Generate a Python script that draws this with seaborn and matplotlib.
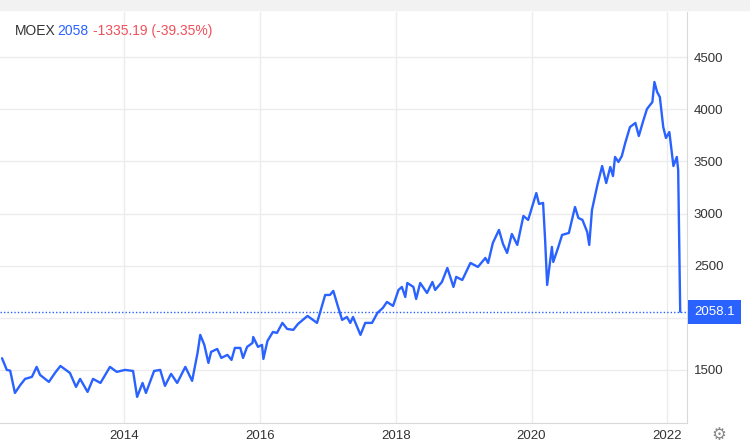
import numpy as np
import pandas as pd
import seaborn as sns
from matplotlib import pyplot as plt

# MOEX index (decimal year, index level)
years = [2012.20, 2012.27, 2012.32, 2012.39, 2012.47, 2012.54, 2012.64, 2012.71, 2012.76, 2012.89,
         2012.98, 2013.06, 2013.20, 2013.29, 2013.35, 2013.46, 2013.54, 2013.65, 2013.79, 2013.89,
         2014.01, 2014.13, 2014.19, 2014.27, 2014.32, 2014.44, 2014.53, 2014.60, 2014.69, 2014.78,
         2014.90, 2015.00, 2015.08, 2015.12, 2015.18, 2015.24, 2015.28, 2015.37, 2015.43, 2015.52,
         2015.58, 2015.63, 2015.71, 2015.75, 2015.81, 2015.89, 2015.90, 2015.97, 2016.03, 2016.05,
         2016.11, 2016.19, 2016.25, 2016.33, 2016.40, 2016.49, 2016.56, 2016.70, 2016.84, 2016.96,
         2017.03, 2017.08, 2017.15, 2017.21, 2017.28, 2017.33, 2017.37, 2017.48, 2017.55, 2017.65,
         2017.73, 2017.81, 2017.87, 2017.96, 2018.04, 2018.09, 2018.14, 2018.17, 2018.26, 2018.30,
         2018.36, 2018.46, 2018.54, 2018.58, 2018.68, 2018.76, 2018.85, 2018.89, 2018.98, 2019.10,
         2019.21, 2019.32, 2019.36, 2019.43, 2019.52, 2019.58, 2019.64, 2019.71, 2019.79, 2019.88,
         2019.95, 2020.07, 2020.11, 2020.17, 2020.20, 2020.23, 2020.30, 2020.32, 2020.39, 2020.45,
         2020.55, 2020.64, 2020.69, 2020.75, 2020.82, 2020.85, 2020.89, 2020.97, 2021.04, 2021.10,
         2021.16, 2021.20, 2021.23, 2021.28, 2021.33, 2021.38, 2021.45, 2021.53, 2021.58, 2021.64,
         2021.70, 2021.78, 2021.81, 2021.85, 2021.89, 2021.94, 2021.98, 2022.03, 2022.09, 2022.14,
         2022.16, 2022.19]
values = [1612, 1500, 1493, 1279, 1356, 1414, 1433, 1529, 1452, 1385,
          1471, 1538, 1471, 1337, 1414, 1289, 1414, 1375, 1529, 1481,
          1500, 1490, 1241, 1375, 1279, 1490, 1500, 1347, 1462, 1375,
          1529, 1395, 1663, 1836, 1740, 1567, 1673, 1701, 1615, 1644,
          1596, 1711, 1711, 1615, 1721, 1759, 1816, 1721, 1740, 1605,
          1778, 1864, 1855, 1951, 1893, 1884, 1941, 2018, 1951, 2219,
          2219, 2258, 2104, 1980, 2008, 1951, 2008, 1836, 1951, 1951,
          2047, 2095, 2152, 2114, 2267, 2296, 2200, 2334, 2296, 2181,
          2334, 2238, 2344, 2267, 2344, 2478, 2296, 2392, 2363, 2526,
          2488, 2574, 2526, 2718, 2843, 2708, 2622, 2804, 2699, 2977,
          2939, 3197, 3092, 3102, 2747, 2315, 2680, 2536, 2670, 2795,
          2814, 3063, 2958, 2939, 2823, 2699, 3034, 3274, 3456, 3293,
          3447, 3360, 3543, 3495, 3552, 3677, 3830, 3869, 3744, 3878,
          4003, 4070, 4262, 4166, 4118, 3830, 3725, 3782, 3456, 3543,
          3418, 2058]

last_value = 2058.1
change_text = "-1335.19 (-39.35%)"
year_ticks = [2014, 2016, 2018, 2020, 2022]
level_ticks = [1500, 2000, 2500, 3000, 3500, 4000, 4500]
line_color = '#2962ff'
grid_color = '#ececec'

df = pd.DataFrame({"year": years, "value": values})

sns.set_style("white")
plt.rcParams['font.family'] = ['Liberation Sans', 'DejaVu Sans']

fig = plt.figure(figsize=(7.5, 4.47), dpi=100)
# light header strip
fig.patches.append(plt.Rectangle((0, 0.978), 1, 0.022, transform=fig.transFigure,
                                 color='#f2f2f2', zorder=0))
ax = fig.add_axes([0, 0.054, 687 / 750, 0.919])

sns.lineplot(data=df, x="year", y="value", color=line_color, lw=1.7, ax=ax)
ax.axhline(last_value, color=line_color, lw=1, ls=(0, (1, 1.5)))

ax.set_xlim(2012.17, 2022.29)
ax.set_ylim(992, 4933)
ax.set_xticks(year_ticks)
ax.set_yticks(level_ticks)
ax.yaxis.tick_right()
ax.grid(True, color=grid_color, lw=1)
ax.tick_params(axis='both', length=0, labelsize=9.5, colors='#333333', pad=5)
ax.set_xlabel('')
ax.set_ylabel('')
for s in ['top', 'left']:
    ax.spines[s].set_visible(False)
for s in ['bottom', 'right']:
    ax.spines[s].set_color('#d9d9d9')
# hide the 2000 label under the price box
for lbl, v in zip(ax.get_yticklabels(), level_ticks):
    if v == 2000:
        lbl.set_visible(False)

# price box at the last value
ax.annotate(f"{last_value:.1f}", xy=(1.0, last_value), xycoords=('axes fraction', 'data'),
            xytext=(5, 0), textcoords='offset points', va='center', ha='left',
            color='white', fontsize=9.5,
            bbox=dict(boxstyle='square,pad=0.45', fc=line_color, ec='none'))

# header text
fig.text(0.020, 0.93, "MOEX", fontsize=10, color='#333333', va='center')
fig.text(0.077, 0.93, f"{last_value:.0f}", fontsize=10, color=line_color, va='center')
fig.text(0.124, 0.93, change_text, fontsize=10, color='#f0505a', va='center')
fig.text(0.958, 0.025, "\u2699", fontsize=12, color='#888888', ha='center', va='center')

fig.savefig("out.png", dpi=100)
